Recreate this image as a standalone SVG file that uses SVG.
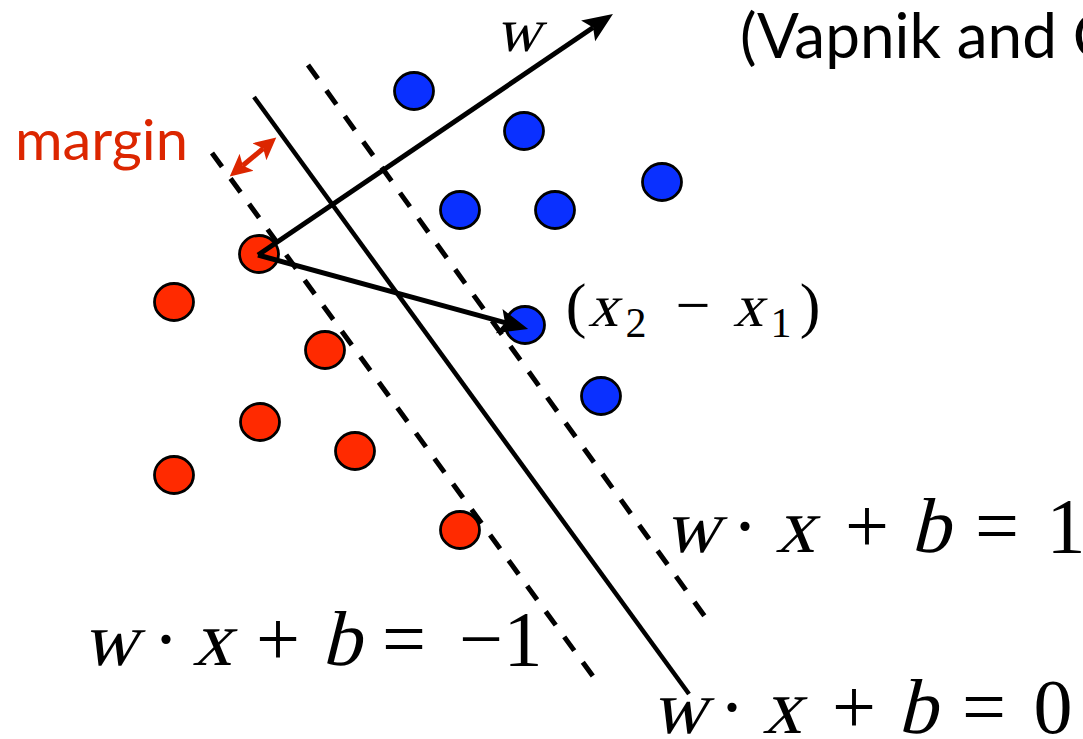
<svg xmlns="http://www.w3.org/2000/svg" width="1083" height="739" viewBox="0 0 1083 739">
  <style>
    .red { fill: #ff2a00; stroke: #000; stroke-width: 2.8; }
    .blue { fill: #0a30ff; stroke: #000; stroke-width: 2.8; }
    .solid { stroke: #000; stroke-width: 4.5; fill: none; }
    .dash { stroke: #000; stroke-width: 5; fill: none; stroke-dasharray: 17 14.5; }
    .arrow { stroke: #000; stroke-width: 5; fill: none; }
    .math { fill: #000; text-anchor: middle; }
    .sans { font-family: Lato, 'Open Sans', 'Liberation Sans', sans-serif; }
  </style>
  <defs>
    <marker id="blackHead" viewBox="0 -14 32 28" markerWidth="32" markerHeight="28" refX="6" refY="0" orient="auto" markerUnits="userSpaceOnUse">
      <path d="M30,0 L0,-12.5 L6,0 L0,12.5 Z" fill="#000"/>
    </marker>
    <marker id="redHead" viewBox="0 -12 24 24" markerWidth="24" markerHeight="24" refX="5" refY="0" orient="auto-start-reverse" markerUnits="userSpaceOnUse">
      <path d="M22,0 L0,-11 L5,0 L0,11 Z" fill="#dc2600"/>
    </marker>
  </defs>
  <rect width="1083" height="739" fill="#fff"/>

  <g id="points">
    <ellipse id="b1" class="blue" cx="414" cy="91" rx="19.5" ry="18.5"/>
    <ellipse id="b2" class="blue" cx="524" cy="131" rx="19.5" ry="18.5"/>
    <ellipse id="b3" class="blue" cx="662" cy="182" rx="19.5" ry="18.5"/>
    <ellipse id="b4" class="blue" cx="460" cy="210" rx="19.5" ry="18.5"/>
    <ellipse id="b5" class="blue" cx="555" cy="210" rx="19.5" ry="18.5"/>
    <ellipse id="b6" class="blue" cx="525" cy="325" rx="19.5" ry="18.5"/>
    <ellipse id="b7" class="blue" cx="601" cy="396" rx="19.5" ry="18.5"/>
    <ellipse id="r1" class="red" cx="259" cy="254" rx="19.5" ry="18.5"/>
    <ellipse id="r2" class="red" cx="174" cy="302" rx="19.5" ry="18.5"/>
    <ellipse id="r3" class="red" cx="325" cy="350" rx="19.5" ry="18.5"/>
    <ellipse id="r4" class="red" cx="260" cy="422" rx="19.5" ry="18.5"/>
    <ellipse id="r5" class="red" cx="355" cy="451" rx="19.5" ry="18.5"/>
    <ellipse id="r6" class="red" cx="174" cy="475" rx="19.5" ry="18.5"/>
    <ellipse id="r7" class="red" cx="460" cy="530" rx="19.5" ry="18.5"/>
  </g>

  <g id="connectors">
    <line id="hyperplane" class="solid" x1="254" y1="97" x2="689" y2="694"/>
    <line id="margin-neg" class="dash" x1="212" y1="153" x2="600" y2="686"/>
    <line id="margin-pos" class="dash" x1="308" y1="65" x2="711" y2="625"/>
    <line id="w-arrow" class="arrow" x1="258" y1="255" x2="593.1" y2="27.5" marker-end="url(#blackHead)"/>
    <line id="diff-arrow" class="arrow" x1="258" y1="255" x2="505" y2="322.7" marker-end="url(#blackHead)"/>
    <line id="margin-arrow" stroke="#dc2600" stroke-width="5" x1="242.8" y1="165.5" x2="263.2" y2="148.5" marker-start="url(#redHead)" marker-end="url(#redHead)"/>
  </g>

  <g id="labels">
    <text id="margin-label" class="sans" x="15" y="160" font-size="56" fill="#dc2600" textLength="173" lengthAdjust="spacingAndGlyphs">margin</text>
    <text id="citation" class="sans" x="740" y="58" font-size="62" fill="#000">(Vapnik and C</text>

    <g id="w-label" font-family="Liberation Serif, serif">
      <text class="math" transform="translate(518 51) skewX(-14)" font-size="62">w</text>
    </g>

    <g id="diff-label" class="math" font-family="Liberation Serif, serif">
      <text x="576" y="326" font-size="62">(</text>
      <text transform="translate(603 326) skewX(-14)" font-size="60">x</text>
      <text x="636" y="337" font-size="42">2</text>
      <text x="693" y="326" font-size="62">−</text>
      <text transform="translate(748 326) skewX(-14)" font-size="60">x</text>
      <text x="781" y="337" font-size="42">1</text>
      <text x="810" y="326" font-size="62">)</text>
    </g>

    <g id="eq-pos" class="math" font-size="78" font-family="Liberation Serif, serif">
      <text transform="translate(692 552) skewX(-14)" font-size="76">w</text>
      <text x="745" y="552">·</text>
      <text transform="translate(795 552) skewX(-14)" font-size="78">x</text>
      <text x="867" y="552">+</text>
      <text transform="translate(930 552) skewX(-14)" font-size="78">b</text>
      <text x="997" y="552">=</text>
      <text x="1066" y="552">1</text>
    </g>

    <g id="eq-zero" class="math" font-size="78" font-family="Liberation Serif, serif">
      <text transform="translate(679 733) skewX(-14)" font-size="76">w</text>
      <text x="732" y="733">·</text>
      <text transform="translate(782 733) skewX(-14)" font-size="78">x</text>
      <text x="854" y="733">+</text>
      <text transform="translate(917 733) skewX(-14)" font-size="78">b</text>
      <text x="984" y="733">=</text>
      <text x="1053" y="733">0</text>
    </g>

    <g id="eq-neg" class="math" font-size="78" font-family="Liberation Serif, serif">
      <text transform="translate(110 665) skewX(-14)" font-size="76">w</text>
      <text x="166" y="665">·</text>
      <text transform="translate(212 665) skewX(-14)" font-size="78">x</text>
      <text x="278" y="665">+</text>
      <text transform="translate(341 665) skewX(-14)" font-size="78">b</text>
      <text x="404" y="665">=</text>
      <text x="481" y="665">−</text>
      <text x="523" y="665">1</text>
    </g>
  </g>
</svg>
